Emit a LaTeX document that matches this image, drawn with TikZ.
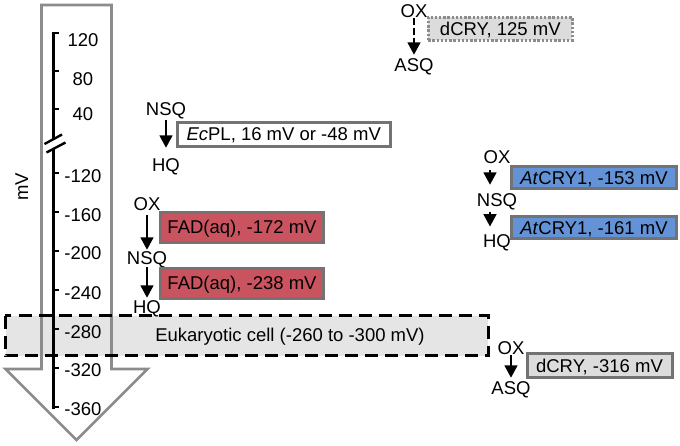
\documentclass[tikz,border=0pt]{standalone}
\usepackage{fontspec}
\setmainfont{Liberation Sans}
\usetikzlibrary{arrows.meta}
\definecolor{fadred}{RGB}{201,84,95}
\definecolor{cryblue}{RGB}{99,146,214}
\definecolor{boxgray}{RGB}{115,115,115}
\definecolor{arrowgray}{RGB}{140,140,140}
\definecolor{cellfill}{RGB}{229,229,229}
\definecolor{dcryfill}{RGB}{220,220,220}
\begin{document}
\begin{tikzpicture}[x=1pt,y=-1pt,
  state/.style={font=\fontsize{18.5}{22}\selectfont, inner sep=0pt, text height=13.3pt, text depth=0pt},
  rbox/.style={state, draw=boxgray, line width=3pt, minimum width=#1},
  arr/.style={line width=2.9pt, -{Triangle[width=12.5pt,length=12.5pt]}},
  tick/.style={line width=2.5pt},
  ticklab/.style={state, anchor=center}
]
\useasboundingbox (0,0) rectangle (680,445);

% eukaryotic cell band (fill)
\node[state, fill=cellfill, minimum width=482.5pt, minimum height=39.8pt] (cell) at (246.75,335.6) {};

% big arrow outline
\draw[draw=arrowgray, line width=2.8pt, line join=miter]
  (41.5,5) -- (111.5,5) -- (111.5,369) -- (147.5,369) -- (76.5,440) -- (5.5,369) -- (41.5,369) -- cycle;

% axis
\draw[line width=2.9pt] (53.5,31.5) -- (53.5,139.2);
\draw[line width=2.9pt] (53.5,148.8) -- (53.5,408.5);
\draw[line width=2.4pt] (44.5,144) -- (62,134.5);
\draw[line width=2.4pt] (46.5,152.5) -- (65.5,142.5);
\foreach \y in {33,71,109,173,212,251,290,329,368,407}
  \draw[tick] (53.5,\y) -- (59,\y);
\node[ticklab] (t120) at (83,39.5) {120};
\node[ticklab] (t80) at (83,78.5) {80};
\node[ticklab] (t40) at (83,114) {40};
\node[ticklab] (tm120) at (83,176) {-120};
\node[ticklab] (tm160) at (83,214.5) {-160};
\node[ticklab] (tm200) at (83,253) {-200};
\node[ticklab] (tm240) at (83,292.5) {-240};
\node[ticklab] (tm280) at (83,331.5) {-280};
\node[ticklab] (tm320) at (83,370) {-320};
\node[ticklab] (tm360) at (83,408.5) {-360};
\node[state, rotate=90] (mv) at (21.5,187) {mV};

% eukaryotic cell border and label
\draw[line width=3pt, dash pattern=on 13pt off 7pt] (cell.north west) rectangle (cell.south east);
\node[state] (celltxt) at (290,335) {Eukaryotic cell (-260 to -300 mV)};

% EcPL
\node[state] (nsqA) at (166,108.5) {NSQ};
\node[state] (hqA) at (166,165) {HQ};
\draw[arr, shorten <=5pt, shorten >=10.3pt] (nsqA) -- (hqA);
\node[rbox=213pt, minimum height=24pt, fill=white] (ecpl) at (283.7,134.2) {\textit{Ec}PL, 16 mV or -48 mV};

% dCRY 125 mV
\node[state] (oxB) at (414,11) {OX};
\node[state] (asqB) at (414,65) {ASQ};
\draw[arr, dash pattern=on 7pt off 3pt, shorten >=3.3pt] (oxB) -- (asqB);
\node[state, draw=arrowgray, line width=2.8pt, dash pattern=on 2.4pt off 1.8pt, fill=dcryfill,
  minimum width=144.2pt, minimum height=22.9pt] (dcryA) at (500.3,28.8) {dCRY, 125 mV};

% AtCRY1
\node[state] (oxC) at (497,157.3) {OX};
\node[state] (nsqC) at (497,200) {NSQ};
\node[state] (hqC) at (497,240.5) {HQ};
\draw[arr, shorten <=6pt, shorten >=8.3pt] ([xshift=-7pt]oxC.south) -- ([xshift=-7pt]nsqC.north);
\draw[arr, shorten <=5pt, shorten >=7pt] ([xshift=-7pt]nsqC.south) -- ([xshift=-7pt]hqC.north);
\node[rbox=165pt, minimum height=22pt, fill=cryblue] (at1) at (594,177.5) {\textit{At}CRY1, -153 mV};
\node[rbox=165pt, minimum height=22pt, fill=cryblue] (at2) at (594,227.5) {\textit{At}CRY1, -161 mV};

% FAD(aq)
\node[state] (oxD) at (147,204) {OX};
\node[state] (nsqD) at (147,258.3) {NSQ};
\node[state] (hqD) at (147,307) {HQ};
\draw[arr, shorten <=4.3pt, shorten >=1.6pt] (oxD) -- (nsqD);
\draw[arr, shorten <=1.7pt, shorten >=2.3pt] (nsqD) -- (hqD);
\node[rbox=163pt, minimum height=30pt, fill=fadred] (fad1) at (242,227) {FAD(aq), -172 mV};
\node[rbox=163pt, minimum height=30pt, fill=fadred] (fad2) at (242,283) {FAD(aq), -238 mV};

% dCRY -316 mV
\node[state] (oxE) at (511,347.5) {OX};
\node[state] (asqE) at (511,388.3) {ASQ};
\draw[arr, shorten <=1pt, shorten >=3.6pt] (oxE) -- (asqE);
\node[rbox=145pt, minimum height=23.5pt, fill=dcryfill] (dcryB) at (599.5,365.5) {dCRY, -316 mV};
\end{tikzpicture}
\end{document}
